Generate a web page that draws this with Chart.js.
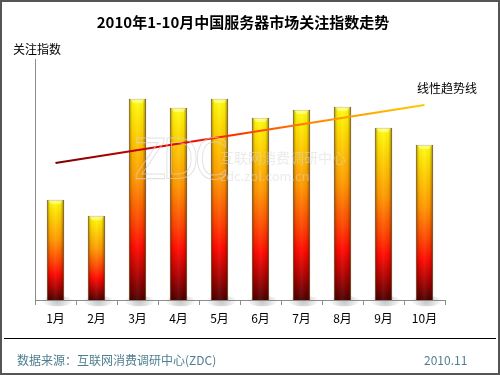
<!DOCTYPE html>
<html>
<head>
<meta charset="utf-8">
<script src="https://cdn.jsdelivr.net/npm/chart.js@4/dist/chart.umd.min.js"></script>
<style>
  html, body { margin: 0; padding: 0; background: #fff; }
  #wrap { position: relative; width: 500px; height: 375px; overflow: hidden; background: #fff;
          font-family: "Noto Sans CJK SC", "Liberation Sans", sans-serif; }
  #c { position: absolute; left: 0; top: 0; }
  .t { position: absolute; white-space: nowrap; line-height: 1; }
  #title { left: 0; width: 486px; top: 14px; text-align: center; font-size: 15px; font-weight: bold; color: #000; }
  #ylab { left: 13px; top: 43px; font-size: 12px; color: #000; }
  #trendlab { left: 417px; top: 82px; font-size: 12px; color: #000; }
  #rule { position: absolute; left: 4px; top: 338px; width: 492px; height: 1px; background: #000; }
  #src { left: 17px; top: 354px; font-size: 12px; color: #4f7f8f; }
  #date { left: 424px; top: 354px; font-size: 12px; color: #4f7f8f; }
  #border { position: absolute; left: 0; top: 0; width: 496px; height: 371px; border: 2px solid #555; pointer-events: none; }
  .wm { position: absolute; white-space: nowrap; line-height: 1; color: rgba(215,215,215,0.5); pointer-events: none; }
  #wm1 { left: 134px; top: 131px; font-size: 56px; font-family: "DejaVu Sans", sans-serif; color: rgba(255,255,255,0); -webkit-text-stroke: 1.1px rgba(210,210,210,0.65); letter-spacing: -5px; transform: scaleX(0.85); transform-origin: left top; }
  #wm2 { left: 220px; top: 150px; font-size: 14px; }
  #wm3 { left: 220px; top: 169px; font-size: 13px; }
</style>
</head>
<body>
<div id="wrap">
  <canvas id="c" width="500" height="375"></canvas>
  <div class="t" id="title">2010年1-10月中国服务器市场关注指数走势</div>
  <div class="t" id="ylab">关注指数</div>
  <div class="t" id="trendlab">线性趋势线</div>
  <div class="wm" id="wm1">ZDC</div>
  <div class="wm" id="wm2">互联网消费调研中心</div>
  <div class="wm" id="wm3">zdc.zol.com.cn</div>
  <div id="rule"></div>
  <div class="t" id="src">数据来源：互联网消费调研中心(ZDC)</div>
  <div class="t" id="date">2010.11</div>
  <div id="border"></div>
</div>
<script>
const categories = ['1月', '2月', '3月', '4月', '5月', '6月', '7月', '8月', '9月', '10月'];
const attentionIndex = [100, 84, 201, 192, 201, 182, 190, 193, 172, 155];
const trendLine = [137, null, null, null, null, null, null, null, null, 195];
const yMax = 241;

function barGradient(ctx) {
  const chart = ctx.chart;
  if (!chart.chartArea || ctx.type !== 'data') return '#ff9900';
  const y = chart.scales.y;
  const top = y.getPixelForValue(ctx.parsed ? ctx.parsed.y : ctx.raw);
  const bottom = y.getPixelForValue(0);
  const g = chart.ctx.createLinearGradient(0, top, 0, bottom);
  g.addColorStop(0, '#ffff10');
  g.addColorStop(0.12, '#ffe000');
  g.addColorStop(0.4, '#ff9800');
  g.addColorStop(0.62, '#ff4000');
  g.addColorStop(0.74, '#ff0800');
  g.addColorStop(0.88, '#a80000');
  g.addColorStop(1, '#4a0000');
  return g;
}

function lineGradient(ctx) {
  const chart = ctx.chart;
  const a = chart.chartArea;
  if (!a) return '#ff3300';
  const g = chart.ctx.createLinearGradient(a.left + 20, 0, a.right - 20, 0);
  g.addColorStop(0, '#7a0000');
  g.addColorStop(0.3, '#e00000');
  g.addColorStop(0.45, '#ff2000');
  g.addColorStop(0.7, '#ff8800');
  g.addColorStop(1, '#ffcc00');
  return g;
}

const barShade = {
  id: 'barShade',
  beforeDatasetsDraw(chart) {
    const meta = chart.getDatasetMeta(1);
    const c = chart.ctx;
    c.save();
    meta.data.forEach(bar => {
      const w = bar.width, base = bar.base;
      const g = c.createRadialGradient(bar.x + 2, base + 1, 1, bar.x + 2, base + 1, w * 0.9);
      g.addColorStop(0, 'rgba(120,120,120,0.4)');
      g.addColorStop(1, 'rgba(120,120,120,0)');
      c.fillStyle = g;
      c.save();
      c.translate(bar.x + 2, base + 1);
      c.scale(1, 0.35);
      c.beginPath();
      c.arc(0, 0, w * 0.9, 0, Math.PI * 2);
      c.restore();
      c.fill();
    });
    c.restore();
  },
  afterDatasetDraw(chart, args) {
    if (args.index !== 1) return;
    const meta = chart.getDatasetMeta(1);
    const c = chart.ctx;
    c.save();
    meta.data.forEach(bar => {
      const w = bar.width, x = bar.x - w / 2, top = bar.y, base = bar.base;
      const g = c.createLinearGradient(x, 0, x + w, 0);
      g.addColorStop(0, 'rgba(60,20,0,0.45)');
      g.addColorStop(0.18, 'rgba(60,20,0,0.05)');
      g.addColorStop(0.5, 'rgba(255,255,255,0.06)');
      g.addColorStop(0.8, 'rgba(60,20,0,0.05)');
      g.addColorStop(1, 'rgba(60,20,0,0.5)');
      c.fillStyle = g;
      c.fillRect(x, top, w, base - top);
      c.fillStyle = 'rgba(255,255,190,0.55)';
      c.beginPath();
      c.moveTo(x + 1, top);
      c.lineTo(x + w - 1, top);
      c.lineTo(x + w - 4, top + 4);
      c.lineTo(x + 4, top + 4);
      c.closePath();
      c.fill();
    });
    c.restore();
  }
};

new Chart(document.getElementById('c'), {
  type: 'bar',
  data: {
    labels: categories,
    datasets: [
      {
        type: 'line',
        label: '线性趋势线',
        data: trendLine,
        spanGaps: true,
        borderColor: lineGradient,
        borderWidth: 2.2,
        pointRadius: 0,
        fill: false,
        order: 0
      },
      {
        type: 'bar',
        label: '关注指数',
        data: attentionIndex,
        backgroundColor: barGradient,
        borderColor: 'rgba(110,80,0,0.55)',
        borderWidth: 1,
        barThickness: 17,
        order: 1
      }
    ]
  },
  options: {
    responsive: false,
    animation: false,
    devicePixelRatio: 1,
    layout: { padding: { left: 0, right: 55, top: 59, bottom: 0 } },
    plugins: { legend: { display: false }, tooltip: { enabled: false }, title: { display: false } },
    scales: {
      x: {
        offset: true,
        grid: { display: true, drawOnChartArea: false, drawTicks: true, tickLength: 5, color: '#8c8c8c', offset: true },
        border: { display: true, color: '#8c8c8c', width: 1 },
        ticks: { color: '#000', padding: 6, font: { size: 12, family: '"Noto Sans CJK SC", sans-serif' }, maxRotation: 0 },
        afterFit(scale) { scale.height = 75; }
      },
      y: {
        min: 0,
        max: yMax,
        grid: { display: false },
        border: { display: true, color: '#8c8c8c', width: 1 },
        ticks: { display: false },
        afterFit(scale) { scale.width = 35; }
      }
    }
  },
  plugins: [barShade]
});
</script>
</body>
</html>
